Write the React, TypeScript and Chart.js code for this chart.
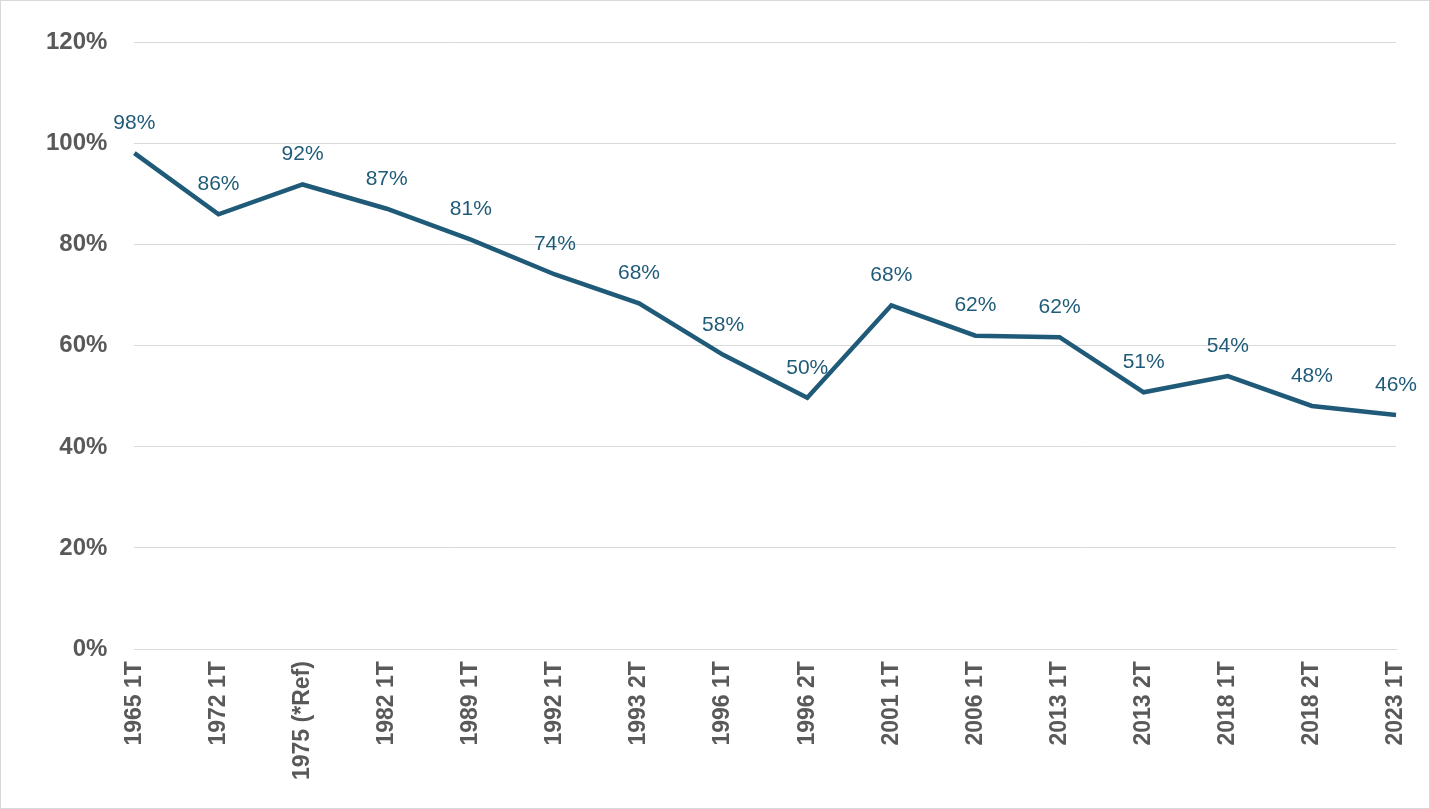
import React, { useEffect, useRef } from "react";
import { Chart, registerables } from "chart.js";
Chart.register(...registerables);

const categories = ["1965 1T","1972 1T","1975 (*Ref)","1982 1T","1989 1T","1992 1T","1993 2T","1996 1T","1996 2T","2001 1T","2006 1T","2013 1T","2013 2T","2018 1T","2018 2T","2023 1T"];
const values = [98.1, 86, 91.9, 87.1, 81, 74.1, 68.4, 58.2, 49.7, 68, 62, 61.7, 50.8, 54, 48.1, 46.3];
const labels = ["98%","86%","92%","87%","81%","74%","68%","58%","50%","68%","62%","62%","51%","54%","48%","46%"];

const LINE = "#1f5b78";
const FONT = "'Liberation Sans', Arial, sans-serif";

const labelPlugin = {
  id: "dl",
  afterDatasetsDraw(chart: any) {
    const ctx = chart.ctx;
    const meta = chart.getDatasetMeta(0);
    ctx.save();
    ctx.fillStyle = "#1f5b78";
    ctx.font = "21px " + FONT;
    ctx.textAlign = "center";
    ctx.textBaseline = "middle";
    meta.data.forEach((p: any, i: number) => {
      ctx.fillText(labels[i], p.x, p.y - 30);
    });
    ctx.restore();
  },
};

export default function App() {
  const ref = useRef<HTMLCanvasElement>(null);
  useEffect(() => {
    document.body.style.margin = "0";
    const chart = new Chart(ref.current!, {
      type: "line",
      data: {
        labels: categories,
        datasets: [{ data: values, borderColor: LINE, borderWidth: 4.5, pointRadius: 0, tension: 0, fill: false }],
      },
      options: {
        animation: false,
        responsive: false,
        maintainAspectRatio: false,
        layout: { padding: { top: 14, right: 33, bottom: 24, left: 18 } },
        plugins: { legend: { display: false }, tooltip: { enabled: false } },
        scales: {
          x: {
            offset: false,
            grid: { display: false },
            border: { color: "#d9d9d9" },
            ticks: { color: "#595959", font: { size: 23, weight: "bold", family: FONT }, maxRotation: 90, minRotation: 90, autoSkip: false, padding: 4 },
          },
          y: {
            min: 0, max: 120,
            grid: { color: "#d9d9d9", drawTicks: false },
            border: { display: false },
            ticks: { stepSize: 20, color: "#595959", padding: 27, font: { size: 24, weight: "bold", family: FONT }, callback: (v: any) => v + "%" },
          },
        },
      },
      plugins: [labelPlugin],
    });
    return () => chart.destroy();
  }, []);
  return (
    <div style={{ width: 1430, height: 809, boxSizing: "border-box", border: "1px solid #d9d9d9", background: "#fff" }}>
      <canvas ref={ref} width={1428} height={807} />
    </div>
  );
}
